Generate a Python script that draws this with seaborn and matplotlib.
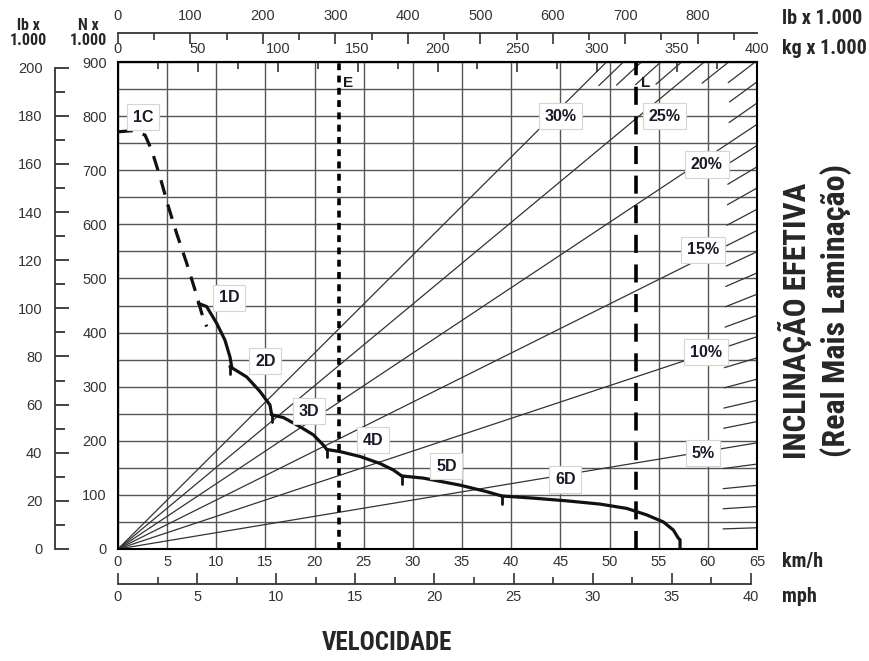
import numpy as np
import pandas as pd
import matplotlib
matplotlib.use("Agg")
import matplotlib.pyplot as plt
import seaborn as sns

# ---------------- data ----------------
speed_ticks_kmh = list(range(0, 66, 5))
rimpull_ticks_kn = list(range(0, 901, 100))
klb_left_ticks = list(range(0, 201, 20))
kg_top_ticks = list(range(0, 401, 50))
klb_top_ticks = list(range(0, 801, 100))
mph_ticks = list(range(0, 41, 5))

grades_major = [5, 10, 15, 20, 25, 30]
grades_minor = [1, 2, 3, 4, 6, 7, 8, 9, 11, 12, 13, 14, 16, 17, 18, 19,
                21, 22, 23, 24, 26, 27, 28, 29]

# gear curves: speed (km/h), rimpull (kN)
g1c_v = [0.0, 1.4, 2.75, 3.43, 4.27, 5.12, 5.97, 6.99, 7.83, 8.51, 9.02]
g1c_n = [771, 773, 765, 737, 688, 633, 583, 528, 479, 436, 411]
g1d_v = [8.17, 9.02, 10.04, 10.88, 11.39, 11.56]
g1d_n = [454, 448, 417, 386, 355, 337]
g2d_v = [11.39, 13.09, 14.45, 15.46, 15.63]
g2d_n = [337, 318, 291, 266, 248]
g3d_v = [15.63, 16.82, 18.51, 19.87, 20.89, 21.23]
g3d_n = [248, 243, 226, 211, 192, 184]
g4d_v = [21.23, 22.58, 24.62, 26.65, 28.01, 28.86]
g4d_n = [184, 180, 171, 158, 146, 135]
g5d_v = [28.86, 31.06, 34.79, 37.5, 39.03]
g5d_n = [135, 131, 118, 106, 98]
g6d_v = [39.03, 42.25, 45.64, 49.03, 51.75, 53.78, 55.47, 56.49, 57.0, 57.17, 57.17]
g6d_n = [98, 94, 89, 83, 75, 63, 50, 35, 20, 17, 0]

gear_names = ["1C", "1D", "2D", "3D", "4D", "5D", "6D"]
gear_label_v = [2.55, 11.3, 15.0, 19.4, 25.9, 33.4, 45.5]
gear_label_n = [798, 464, 347, 255, 201, 153, 128]

grade_label_v = [59.5, 59.8, 59.5, 59.9, 55.6, 45.0]
grade_label_n = [177, 364, 553, 711, 800, 800]

speed_E = 22.5
speed_L = 52.7

# ---------------- conversions ----------------
KG_PER_KMH = 400.0 / 65.0


def kmh_to_kg(v):
    return np.asarray(v) * KG_PER_KMH


def kg_to_kmh(k):
    return np.asarray(k) / KG_PER_KMH


def kmh_to_klb(v):
    return np.asarray(v) * KG_PER_KMH / 0.45359237


def klb_to_kmh(l):
    return np.asarray(l) * 0.45359237 / KG_PER_KMH


def kmh_to_mph(v):
    return np.asarray(v) / 1.609344


def mph_to_kmh(m):
    return np.asarray(m) * 1.609344


def kn_to_klb(n):
    return np.asarray(n) / 4.4482216


def klb_to_kn(l):
    return np.asarray(l) * 4.4482216


def grade_rimpull(v, g):
    return np.asarray(v) * KG_PER_KMH * g / 100.0 * 9.81


# ---------------- figure ----------------
sns.set_style("white")
plt.rcParams["font.family"] = ["Liberation Sans", "DejaVu Sans"]
NARROW = ["Roboto Condensed", "DejaVu Sans Condensed", "Liberation Sans Narrow",
          "Liberation Sans", "DejaVu Sans"]
TICK_COL = "#333333"
W, H = 869, 661
fig = plt.figure(figsize=(W / 100, H / 100), dpi=100)
L0, R0, T0, B0 = 118, 757, 62, 549
ax = fig.add_axes([L0 / W, 1 - B0 / H, (R0 - L0) / W, (B0 - T0) / H])
ax.set_xlim(0, 65)
ax.set_ylim(0, 900)

px_per_v = (R0 - L0) / 65.0
px_per_n = (B0 - T0) / 900.0

# grid
ax.set_xticks(speed_ticks_kmh)
ax.set_yticks(rimpull_ticks_kn)
ax.set_yticks(list(range(50, 900, 100)), minor=True)
ax.grid(which="both", color="#555555", lw=1.0)
ax.set_axisbelow(True)
ax.tick_params(axis="both", which="both", length=0, colors=TICK_COL, labelsize=10.5)
ax.tick_params(axis="y", pad=8)
ax.tick_params(axis="x", pad=4)
for s in ax.spines.values():
    s.set_color("black")
    s.set_linewidth(1.5)
    s.set_visible(True)

# major grade lines (full)
for g in grades_major:
    v_end = min(65.0, 900.0 / (KG_PER_KMH * g / 100.0 * 9.81))
    sns.lineplot(x=[0, v_end], y=[0, grade_rimpull(v_end, g)], ax=ax,
                 color="#333333", lw=0.9, sort=False, estimator=None)

# minor grade lines (short end segments)
seg_px = 34.0
for g in grades_minor:
    v_end = min(65.0, 900.0 / (KG_PER_KMH * g / 100.0 * 9.81))
    slope_px = KG_PER_KMH * g / 100.0 * 9.81 * px_per_n / px_per_v
    dv = seg_px / px_per_v / np.sqrt(1 + slope_px ** 2)
    sns.lineplot(x=[v_end - dv, v_end], y=[grade_rimpull(v_end - dv, g), grade_rimpull(v_end, g)],
                 ax=ax, color="#333333", lw=0.9, sort=False, estimator=None)

# E and L lines
ax.axvline(speed_E, color="black", lw=2.6, ls=(0, (1.9, 1.5)), zorder=4)
ax.axvline(speed_L, color="black", lw=2.6, ls=(0, (5.0, 3.2)), zorder=4)
ax.text(speed_E + 0.35, 862, "E", fontsize=11, fontweight="bold", va="center", ha="left", color="#1a1a1a")
ax.text(speed_L + 0.45, 862, "L", fontsize=11, fontweight="bold", va="center", ha="left", color="#1a1a1a")

# gear curves
sns.lineplot(x=g1c_v, y=g1c_n, ax=ax, color="#111111", lw=2.3, sort=False,
             estimator=None, zorder=5).lines[-1].set_linestyle((0, (4.7, 3.2)))
for vv, nn in [(g1d_v, g1d_n), (g2d_v, g2d_n), (g3d_v, g3d_n), (g4d_v, g4d_n),
               (g5d_v, g5d_n), (g6d_v, g6d_n)]:
    sns.lineplot(x=vv, y=nn, ax=ax, color="#111111", lw=2.3, sort=False, estimator=None, zorder=5)
# small shift ticks at gear changes
for vv, nn in [(g2d_v, g2d_n), (g3d_v, g3d_n), (g4d_v, g4d_n), (g5d_v, g5d_n), (g6d_v, g6d_n)]:
    ax.plot([vv[0], vv[0]], [nn[0], nn[0] - 14], color="#111111", lw=2.0, zorder=5)

box = dict(boxstyle="square,pad=0.36", fc="white", ec="#d5d5d5", lw=0.8)
for name, v, n in zip(gear_names, gear_label_v, gear_label_n):
    ax.text(v, n, name, fontsize=11.5, fontweight="bold", ha="center", va="center",
            color="#1a1a2a", bbox=box, zorder=6)
for g, v, n in zip(grades_major, grade_label_v, grade_label_n):
    ax.text(v, n, f"{g}%", fontsize=11.5, fontweight="bold", ha="center", va="center",
            color="#1a1a2a", bbox=box, zorder=6)

# top kg axis (on main top spine)
sec_kg = ax.secondary_xaxis("top", functions=(kmh_to_kg, kg_to_kmh))
sec_kg.set_xticks(kg_top_ticks)
sec_kg.set_xticks(list(range(25, 400, 50)), minor=True)
sec_kg.tick_params(which="major", direction="in", length=7, width=1.2, pad=4,
                   colors=TICK_COL, labelsize=10.5)
sec_kg.tick_params(which="minor", direction="in", length=5, width=1.2, colors=TICK_COL)
sec_kg.spines["top"].set_linewidth(1.5)

# top lb axis
top_loc = (B0 - 33) / (B0 - T0)
sec_lb = ax.secondary_xaxis(top_loc, functions=(kmh_to_klb, klb_to_kmh))
sec_lb.set_xticks(klb_top_ticks)
sec_lb.set_xticks(list(range(50, 900, 100)), minor=True)
sec_lb.tick_params(which="major", direction="in", length=8, width=1.2, pad=7,
                   colors=TICK_COL, labelsize=10.5)
sec_lb.tick_params(which="minor", direction="in", length=5, width=1.2, colors=TICK_COL)
sec_lb.spines["top"].set_linewidth(1.3)
sec_lb.spines["top"].set_color("#333333")

# bottom mph axis
bot_loc = (B0 - 584) / (B0 - T0)
sec_mph = ax.secondary_xaxis(bot_loc, functions=(kmh_to_mph, mph_to_kmh))
sec_mph.set_xticks(mph_ticks)
sec_mph.set_xticks([2.5 + 5 * i for i in range(8)], minor=True)
sec_mph.tick_params(which="major", direction="in", length=8, width=1.2, pad=4,
                    colors=TICK_COL, labelsize=10.5)
sec_mph.tick_params(which="minor", direction="in", length=5, width=1.2, colors=TICK_COL)
sec_mph.spines["bottom"].set_linewidth(1.3)
sec_mph.spines["bottom"].set_color("#333333")
sec_mph.spines["bottom"].set_bounds(0, 40)

# left lb axis
left_loc = (55 - L0) / (R0 - L0)
sec_l = ax.secondary_yaxis(left_loc, functions=(kn_to_klb, klb_to_kn))
sec_l.set_yticks(klb_left_ticks)
sec_l.set_yticks(list(range(10, 200, 20)), minor=True)
sec_l.tick_params(which="major", direction="in", length=10, width=1.3, pad=9,
                  colors=TICK_COL, labelsize=10.5)
sec_l.tick_params(which="minor", direction="in", length=7, width=1.3, colors=TICK_COL)
sec_l.spines["left"].set_linewidth(1.3)
sec_l.spines["left"].set_color("#333333")
sec_l.spines["left"].set_bounds(0, 200)


def fx(x):
    return x / W


def fy(y):
    return 1 - y / H


# unit labels
fig.text(fx(28), fy(33), "lb x\n1.000", family=NARROW, fontweight="bold", fontsize=11.5,
         ha="center", va="center", multialignment="center", linespacing=1.05)
fig.text(fx(88), fy(33), "N x\n1.000", family=NARROW, fontweight="bold", fontsize=11.5,
         ha="center", va="center", multialignment="center", linespacing=1.05)
fig.text(fx(782), fy(18), "lb x 1.000", family=NARROW, fontweight="bold", fontsize=14.5,
         ha="left", va="center")
fig.text(fx(782), fy(48), "kg x 1.000", family=NARROW, fontweight="bold", fontsize=14.5,
         ha="left", va="center")
fig.text(fx(782), fy(562), "km/h", family=NARROW, fontweight="bold", fontsize=14.5,
         ha="left", va="center")
fig.text(fx(782), fy(597), "mph", family=NARROW, fontweight="bold", fontsize=14.5,
         ha="left", va="center")
fig.text(fx(795), fy(321), "INCLINAÇÃO EFETIVA", family=NARROW, fontweight="bold",
         fontsize=22.5, rotation=90, ha="center", va="center")
fig.text(fx(836), fy(311), "(Real Mais Laminação)", family=NARROW, fontweight="bold",
         fontsize=23, rotation=90, ha="center", va="center")
fig.text(fx(387), fy(643), "VELOCIDADE", family=NARROW, fontweight="bold",
         fontsize=18, ha="center", va="center")

fig.savefig("out.png", dpi=100, facecolor="white")
